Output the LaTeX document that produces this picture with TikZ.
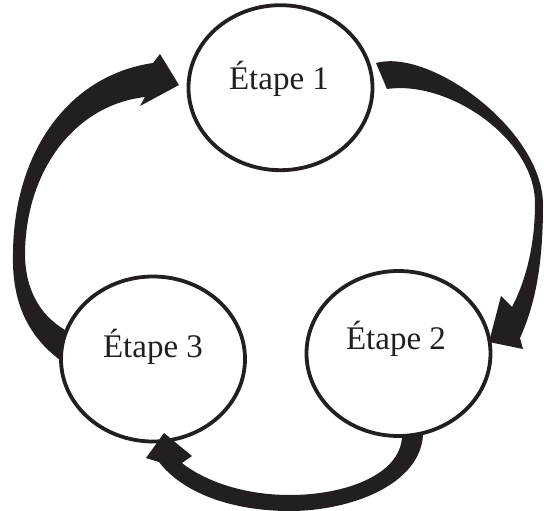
\documentclass[tikz,border=0pt]{standalone}
\usepackage{fontspec}
\setmainfont{Liberation Serif}
\usetikzlibrary{shapes.geometric,calc}
\definecolor{ink}{RGB}{35,31,32}
\begin{document}
\begin{tikzpicture}[x=1pt,y=-1pt,
  stage/.style={ellipse, draw=ink, line width=3.8pt, minimum width=184pt,
                minimum height=165pt, inner sep=0pt},
  caption/.style={anchor=base, font=\fontsize{33}{38}\selectfont, text=ink, inner sep=0pt},
  blockarrow/.style={fill=ink}]
\useasboundingbox (0,0) rectangle (544,511);

% curved block arrows with tapered bodies
% step 1 -> step 2, along the right side
\fill[blockarrow]
  (376,63) .. controls (430,48) and (543,130) .. (543,205)
           .. controls (543,265) and (535,305) .. (520,338)
  -- (523,349) -- (489,342) -- (501,296) -- (512,307)
           .. controls (526,280) and (535,245) .. (535,203)
           .. controls (535,140) and (450,80) .. (387,89)
  -- cycle;

% step 2 -> step 3, along the bottom
\fill[blockarrow]
  (402,437) -- (423,435)
           .. controls (420,485) and (350,511) .. (290,511)
           .. controls (230,511) and (182,492) .. (159,462)
  -- (146,458) -- (164,433) -- (192,456) -- (182,463)
           .. controls (202,479) and (240,495) .. (290,495)
           .. controls (345,495) and (400,475) .. (402,437)
  -- cycle;

% step 3 -> step 1, along the left side
\fill[blockarrow]
  (60,360) .. controls (20,330) and (12,290) .. (13,253)
           .. controls (14,150) and (70,75) .. (153,63)
  -- (160,54) -- (179,85) -- (140,106) -- (145,97)
           .. controls (75,105) and (26,170) .. (25,253)
           .. controls (25,290) and (40,315) .. (65,330)
  -- cycle;

% the three steps
\node[stage] (s1) at (280.5,87.7) {};
\node[stage] (s2) at (398.5,353.5) {};
\node[stage] (s3) at (153,359) {};

\node[caption] (c1) at ($(s1)+(-1.5,1.3)$) {Étape 1};
\node[caption] (c2) at ($(s2)+(-2.5,-4.5)$) {Étape 2};
\node[caption] (c3) at ($(s3)+(0,-2)$) {Étape 3};
\end{tikzpicture}
\end{document}
